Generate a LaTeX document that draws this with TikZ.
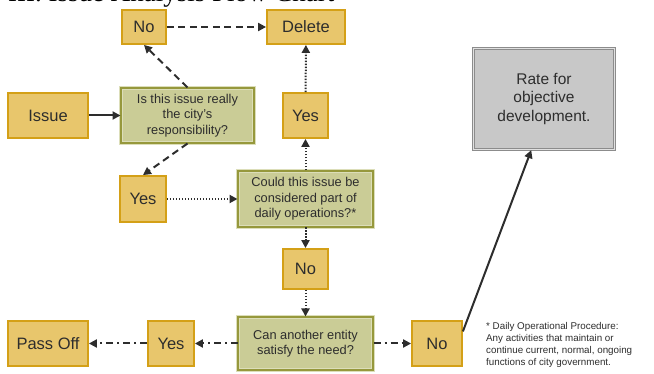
\documentclass[tikz,border=0pt]{standalone}
\usepackage{fontspec}
\setmainfont{Liberation Sans}
\newfontfamily\titlefont{Liberation Serif}
\usetikzlibrary{arrows.meta}
\definecolor{gold}{RGB}{232,198,108}
\definecolor{goldline}{RGB}{212,160,23}
\definecolor{olivefill}{RGB}{202,204,150}
\definecolor{oliveline}{RGB}{150,152,60}
\definecolor{olivelight}{RGB}{220,222,185}
\definecolor{greyfill}{RGB}{200,200,200}
\definecolor{greyline}{RGB}{140,140,140}
\definecolor{greylight}{RGB}{225,225,225}
\definecolor{ink}{RGB}{45,45,45}
\begin{document}
\begin{tikzpicture}[x=1pt,y=-1pt,
  ans/.style={rectangle, fill=gold, draw=goldline, line width=1.8pt, font=\fontsize{16.5}{18}\selectfont, text=ink, inner sep=0pt},
  ques/.style={rectangle, fill=olivefill, draw=olivelight, double=oliveline, double distance=2.6pt, line width=1pt, font=\fontsize{12.8}{15.5}\selectfont, align=center, text=ink, inner sep=0pt},
  ratebox/.style={rectangle, fill=greyfill, draw=greyline, double=greylight, double distance=1.2pt, line width=1.3pt, font=\fontsize{15.5}{18.5}\selectfont, align=center, text=ink, inner sep=0pt},
  conn/.style={draw=ink, line width=2pt, -{Triangle[length=8pt,width=8pt]}},
  dsh/.style={conn, dash pattern=on 7pt off 4.5pt},
  dtt/.style={conn, dash pattern=on 1.5pt off 1.5pt},
  dshdot/.style={conn, dash pattern=on 7pt off 4pt on 2pt off 4pt}
]
\useasboundingbox (0,0) rectangle (654,374);
\node[anchor=base west, font=\titlefont\fontsize{27}{29}\selectfont, inner sep=0pt] (title) at (8,1.5) {III. Issue Analysis Flow Chart};

\node[ans, minimum width=44pt, minimum height=34pt] (noT) at (144,27) {No};
\node[ans, minimum width=78pt, minimum height=34pt] (del) at (306,27) {Delete};
\node[ans, minimum width=80pt, minimum height=45pt] (issue) at (48,115.5) {Issue};
\node[ques, minimum width=133pt, minimum height=55pt] (q1) at (187.5,115.5) {Is this issue really\\the city's\\responsibility?};
\node[ans, minimum width=45pt, minimum height=45pt] (yesU) at (305.5,115.5) {Yes};
\node[ans, minimum width=46pt, minimum height=46pt] (yesL) at (143,199) {Yes};
\node[ques, minimum width=135pt, minimum height=56pt] (q2) at (305.5,199) {Could this issue be\\considered part of\\daily operations?*};
\node[ans, minimum width=45pt, minimum height=40pt] (noM) at (305.5,269) {No};
\node[ques, minimum width=135pt, minimum height=53pt] (q3) at (305.5,343.5) {Can another entity\\satisfy the need?};
\node[ans, minimum width=46pt, minimum height=45pt] (yesB) at (171,343.5) {Yes};
\node[ans, minimum width=80pt, minimum height=45pt] (pass) at (48,343.5) {Pass Off};
\node[ans, minimum width=50pt, minimum height=45pt] (noB) at (437,343.5) {No};
\node[ratebox, minimum width=141pt, minimum height=101pt] (rate) at (544,99) {Rate for\\objective\\development.};
\node[anchor=north west, align=left, inner sep=0pt, text=ink, font=\fontsize{9.8}{12}\selectfont] (note) at (486,322.5) {* Daily Operational Procedure:\\Any activities that maintain or\\continue current, normal, ongoing\\functions of city government.};

\draw[conn] (issue) -- (q1);
\draw[dsh] (q1.north) -- (noT.south);
\draw[dsh] (noT) -- (del);
\draw[dtt] (yesU) -- (del);
\draw[dsh] (q1.south) -- (yesL.north);
\draw[dtt] (yesL) -- (q2);
\draw[dtt] (q2) -- (yesU);
\draw[dtt] (q2) -- (noM);
\draw[dtt] (noM) -- (q3);
\draw[dshdot] (q3) -- (yesB);
\draw[dshdot] (yesB) -- (pass);
\draw[dshdot] (q3) -- (noB);
\draw[conn] (noB.25) -- (rate.256);
\end{tikzpicture}
\end{document}
